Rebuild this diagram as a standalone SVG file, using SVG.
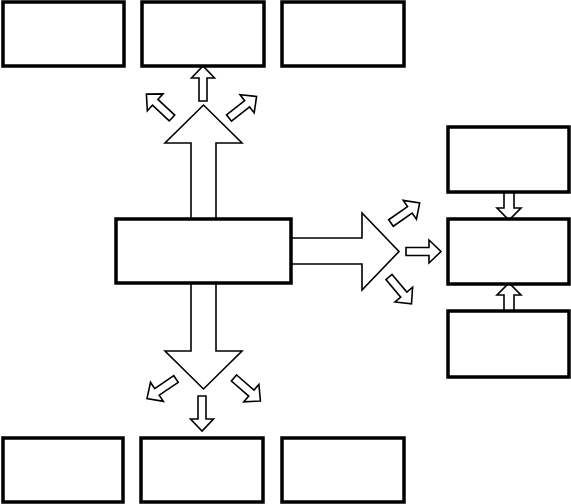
<svg xmlns="http://www.w3.org/2000/svg" width="571" height="504" viewBox="0 0 571 504">
<style>
.box{fill:#fff;stroke:#000;stroke-width:3.5}
.big{fill:#fff;stroke:#000;stroke-width:1.6;stroke-linejoin:miter}
.sm{fill:#fff;stroke:#000;stroke-width:1.6;stroke-linejoin:miter}
</style>
<defs>
<path id="sa" d="M0,-4 L23,-4 L23,-11.5 L35,0 L23,11.5 L23,4 L0,4 Z"/>
<path id="va" d="M0,-5 L16,-5 L16,-12 L28,0 L16,12 L16,5 L0,5 Z"/>
</defs>
<g id="connectors">
<polygon class="big" points="191,219 191,143 165,143 203.5,105 242,143 216,143 216,219"/>
<polygon class="big" points="291,238 362,238 362,213 399,251.5 362,290 362,264 291,264"/>
<polygon class="big" points="191,283 191,351 165,351 203.5,389 242,351 216,351 216,283"/>
<use href="#sa" class="sm" transform="translate(203,101) rotate(-90)"/>
<use href="#sa" class="sm" transform="translate(172,118) rotate(-137)"/>
<use href="#sa" class="sm" transform="translate(229,118) rotate(-38)"/>
<use href="#sa" class="sm" transform="translate(391,223) rotate(-35)"/>
<use href="#sa" class="sm" transform="translate(406,251.5) rotate(0)"/>
<use href="#sa" class="sm" transform="translate(389,277) rotate(50)"/>
<use href="#sa" class="sm" transform="translate(202,396) rotate(90)"/>
<use href="#sa" class="sm" transform="translate(176,379) rotate(146)"/>
<use href="#sa" class="sm" transform="translate(234,378) rotate(41)"/>
<use href="#va" class="sm" transform="translate(509,192) rotate(90)"/>
<use href="#va" class="sm" transform="translate(509,311) rotate(-90)"/>
</g>
<g id="top1"><rect class="box" x="3" y="2" width="121" height="64"/></g>
<g id="top2"><rect class="box" x="142" y="2" width="122" height="64"/></g>
<g id="top3"><rect class="box" x="282" y="2" width="122" height="64"/></g>
<g id="center"><rect class="box" x="116" y="219" width="175" height="64"/></g>
<g id="right1"><rect class="box" x="448" y="127" width="121" height="65"/></g>
<g id="right2"><rect class="box" x="448" y="219" width="121" height="65"/></g>
<g id="right3"><rect class="box" x="448" y="311" width="121" height="66"/></g>
<g id="bottom1"><rect class="box" x="3" y="438" width="120" height="64"/></g>
<g id="bottom2"><rect class="box" x="141" y="438" width="122" height="64"/></g>
<g id="bottom3"><rect class="box" x="282" y="438" width="122" height="64"/></g>
</svg>
